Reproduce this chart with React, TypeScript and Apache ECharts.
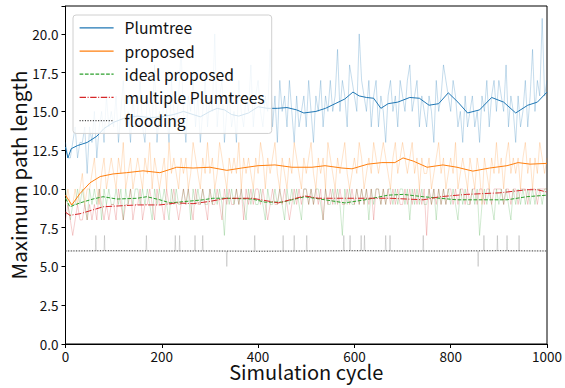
import React, { useEffect, useRef } from "react";
import * as echarts from "echarts";

// ---- data ----
const seriesNames = ["Plumtree", "proposed", "ideal proposed", "multiple Plumtrees", "flooding"];
const xTicks = [0, 200, 400, 600, 800, 1000];
const yTickStep = 2.5;
const rawStep = 5; // raw samples every 5 cycles, 0..1000

const plumRaw = [
  13,12,12,13,14,12,13,13,14,11, 14,13,15,12,14,15,13,16,14,15,
  14,16,13,15,17,14,15,13,16,14, 15,17,14,13,16,15,14,18,13,15,
  14,16,15,13,17,15,14,16,19,15, 13,16,15,17,14,16,13,15,17,14,
  16,15,20,14,16,17,13,15,16,14, 15,13,17,15,14,16,15,18,14,16,
  17,15,14,16,15,19,14,16,13,17, 15,16,14,17,15,13,16,14,15,16,
  14,17,15,13,16,15,17,14,16,15, 17,15,16,19,15,17,16,14,18,17,
  16,15,20,17,16,15,17,14,16,17, 14,16,15,13,16,17,15,16,14,17,
  16,15,17,18,15,16,17,14,16,15, 14,16,15,13,17,15,16,18,17,16,
  15,17,16,14,15,13,16,14,15,16, 14,15,13,16,15,17,14,16,17,15,
  17,16,15,18,14,16,15,13,16,14, 15,17,14,16,19,15,17,16,21,16,
  17,
];
const propRaw = [
  9,10,9,9,10,9,10,11,9,10, 10,11,12,10,9,11,12,10,11,12,
  11,10,12,11,13,10,11,12,10,11, 12,11,10,12,11,13,10,12,11,10,
  11,12,10,13,11,12,11,10,12,11, 12,10,11,13,12,11,10,12,11,13,
  11,12,10,11,13,12,11,10,12,11, 12,11,13,10,12,11,12,11,10,12,
  11,13,12,10,12,11,12,13,11,10, 12,11,10,12,11,13,12,11,10,12,
  11,12,13,11,10,12,11,12,10,13, 12,11,10,12,11,12,13,11,10,11,
  12,11,13,12,10,11,12,11,13,12, 11,12,13,12,11,10,12,13,11,12,
  13,12,11,12,13,11,12,10,12,11, 11,12,10,11,12,13,11,12,10,11,
  12,11,13,10,11,12,11,10,12,11, 10,12,11,9,12,11,10,12,11,13,
  11,12,10,12,13,11,12,11,12,10, 12,13,11,12,10,12,11,13,12,11,
  12,
];
const idealRaw = [
  10,9,8,9,9,10,9,10,9,8, 10,9,10,9,10,8,10,9,10,9,
  9,10,9,10,8,10,9,10,9,10, 10,9,10,9,10,9,8,10,9,10,
  9,10,9,8,10,9,10,9,9,10, 9,10,8,10,9,10,9,10,9,9,
  10,9,10,9,10,9,7,10,9,10, 9,10,9,10,9,8,10,9,10,9,
  9,10,9,8,10,9,9,10,9,10, 9,8,10,9,10,9,10,9,8,10,
  10,9,10,9,10,10,9,8,10,9, 9,10,9,10,9,7,10,9,10,9,
  9,10,9,10,9,10,8,10,9,10, 10,9,10,9,10,10,9,10,9,10,
  10,9,10,8,10,9,10,9,10,9, 9,10,9,10,8,10,9,10,9,10,
  9,10,9,8,10,9,10,9,9,10, 9,10,7,9,10,9,10,9,8,10,
  9,10,9,10,9,8,10,9,10,9, 10,9,10,9,10,9,10,10,9,10,
  10,
];
const multiRaw = [
  8,9,8,7,8,9,8,8,9,8, 9,8,9,8,10,9,8,9,8,9,
  9,8,10,9,8,9,9,10,8,9, 9,10,8,9,9,10,9,8,10,9,
  9,8,10,9,9,10,9,8,9,10, 9,10,9,8,10,9,9,10,9,8,
  10,9,9,10,9,8,10,9,10,9, 9,10,9,10,8,10,9,10,9,10,
  10,9,10,9,8,9,10,9,9,10, 9,10,9,8,9,10,9,10,9,10,
  10,9,10,9,10,9,10,8,10,9, 10,9,10,9,10,9,9,10,9,10,
  9,10,9,10,9,10,9,10,8,10, 10,9,10,9,10,9,10,9,10,9,
  9,10,9,10,9,10,9,10,9,10, 7,10,9,10,9,10,9,10,9,10,
  10,9,10,9,10,10,9,10,9,10, 10,9,10,10,9,10,10,9,10,10,
  10,10,9,10,10,9,10,10,9,10, 10,10,9,10,10,10,9,10,10,10,
  10,
];
const floodBase = 6;
const floodSpikeCycles = [63,81,168,228,237,269,285,335,393,452,475,501,578,591,614,621,665,674,743,857,869,897,917,942];
const floodSpikeValues = [7,7,7,7,7,7,7,5,7,7,7,7,7,7,7,7,7,7,7,5,7,7,7,7];

const plumSmoothX = [0,5,12,25,45,65,80,100,125,150,175,200,225,245,265,280,300,315,330,345,360,380,400,420,440,460,480,495,520,540,560,580,597,610,625,640,655,670,690,715,735,755,775,795,815,835,860,885,910,935,960,980,1000];
const plumSmoothY = [12.7,12.0,12.6,12.8,13.0,13.4,13.9,14.3,14.6,14.7,14.6,14.65,14.8,15.0,14.8,14.65,15.0,15.2,15.1,14.8,14.7,14.9,15.3,15.2,15.2,15.25,15.1,14.9,15.0,15.2,15.5,15.8,16.25,16.0,15.9,15.85,15.2,15.5,15.6,15.9,15.85,15.4,15.5,16.2,15.6,14.9,15.1,15.9,15.6,14.9,15.4,15.6,16.25];
const propSmoothX = [0,13,30,51,72,99,127,161,196,231,265,300,335,366,400,435,470,512,539,574,595,628,657,684,701,722,751,784,813,846,881,917,940,965,1000];
const propSmoothY = [9.6,8.97,9.7,10.4,10.8,10.97,11.05,11.17,11.05,11.4,11.35,11.4,11.2,11.35,11.5,11.55,11.4,11.4,11.5,11.35,11.3,11.6,11.7,11.7,12.0,11.8,11.4,11.55,11.4,11.15,11.35,11.5,11.7,11.6,11.65];
const idealSmoothX = [0,9,30,57,78,107,149,169,196,217,252,286,306,335,388,414,450,497,539,580,622,670,701,743,778,813,867,917,958,1000];
const idealSmoothY = [9.4,8.85,9.1,9.35,9.5,9.35,9.4,9.5,9.3,9.1,9.2,9.3,9.4,9.4,9.35,9.15,9.15,9.5,9.3,9.1,9.3,9.6,9.65,9.5,9.4,9.3,9.3,9.3,9.5,9.6];
const multiSmoothX = [0,9,30,57,78,107,149,196,231,265,300,335,388,442,497,525,574,622,674,743,778,833,902,958,980,1000];
const multiSmoothY = [8.5,8.3,8.4,8.65,8.85,8.9,8.97,8.97,9.1,9.05,9.2,9.4,9.4,9.1,9.55,9.4,9.4,9.4,9.4,9.3,9.5,9.65,9.75,9.95,9.95,9.8];
const floodSmoothX = [0,100,200,300,400,500,600,700,800,900,1000];
const floodSmoothY = [6.0,6.02,6.0,6.0,5.98,6.0,6.02,6.0,6.0,6.02,6.0];

const colors = ["#1f77b4", "#ff7f0e", "#2ca02c", "#d62728", "#333333"];
const FONT = "'Noto Sans CJK JP', 'Noto Sans', sans-serif";

const rawPairs = (vals: number[]) => vals.map((v, i) => [i * rawStep, v]);
const xyPairs = (xs: number[], ys: number[]) => xs.map((x, i) => [x, ys[i]]);
const floodRawPairs = () => {
  const pts: number[][] = [[0, floodBase]];
  floodSpikeCycles.forEach((c, i) => {
    pts.push([c - 1, floodBase], [c, floodSpikeValues[i]], [c + 1, floodBase]);
  });
  pts.push([1000, floodBase]);
  return pts;
};

export default function App() {
  const ref = useRef<HTMLDivElement>(null);
  useEffect(() => {
    if (!ref.current) return;
    const chart = echarts.init(ref.current, undefined, { renderer: "svg" });
    const raw = (name: string, data: number[][], color: string, opacity: number) => ({
      name,
      type: "line",
      data,
      showSymbol: false,
      symbol: "none",
      silent: true,
      lineStyle: { color, width: 1, opacity },
      z: 1,
    });
    const smooth = (name: string, data: number[][], color: string, type: any, width = 1) => ({
      name,
      type: "line",
      data,
      showSymbol: false,
      symbol: "none",
      itemStyle: { color },
      lineStyle: { color, width, type },
      z: 3,
    });
    chart.setOption({
      animation: false,
      textStyle: { fontFamily: FONT },
      grid: {
        left: 65.5,
        right: 18,
        top: 6,
        bottom: 44,
        containLabel: false,
        outerBoundsMode: "none",
        show: true,
        borderColor: "#000",
        borderWidth: 1,
        backgroundColor: "transparent",
      },
      legend: {
        data: seriesNames,
        orient: "vertical",
        left: 73,
        top: 15,
        padding: [5, 7, 5, 6],
        itemWidth: 34,
        itemHeight: 16,
        itemGap: 7.5,
        itemStyle: { opacity: 0 },
        lineStyle: { width: 1.2 },
        backgroundColor: "rgba(255,255,255,0.8)",
        borderColor: "#d0d0d0",
        borderWidth: 1,
        borderRadius: 3,
        textStyle: { fontFamily: FONT, fontSize: 15.7, color: "#111", padding: [0, 0, 0, 6] },
      },
      xAxis: {
        type: "value",
        min: xTicks[0],
        max: xTicks[xTicks.length - 1],
        interval: xTicks[1] - xTicks[0],
        name: "Simulation cycle",
        nameLocation: "middle",
        nameGap: 17,
        nameMoveOverlap: false,
        nameTextStyle: { fontFamily: FONT, fontSize: 20, color: "#111", lineHeight: 20 },
        axisLine: { lineStyle: { color: "#000", width: 1 } },
        axisTick: { show: true, length: 4, lineStyle: { color: "#000" } },
        axisLabel: {
          color: "#111",
          fontSize: 13.5,
          margin: 5,
          fontFamily: FONT,
          lineHeight: 14,
          formatter: (v: number) => String(v),
        },
        splitLine: { show: false },
      },
      yAxis: {
        type: "value",
        min: 0,
        max: 21.8,
        interval: yTickStep,
        name: "Maximum path length",
        nameLocation: "middle",
        nameGap: 37,
        nameMoveOverlap: false,
        nameTextStyle: { fontFamily: FONT, fontSize: 20.5, color: "#111", lineHeight: 21 },
        axisLine: { show: true, lineStyle: { color: "#000", width: 1 } },
        axisTick: { show: true, length: 4, lineStyle: { color: "#000" } },
        axisLabel: {
          color: "#111",
          fontSize: 13.5,
          margin: 7,
          fontFamily: FONT,
          formatter: (v: number) => (Math.abs(v / yTickStep - Math.round(v / yTickStep)) < 1e-6 ? v.toFixed(1) : ""),
        },
        splitLine: { show: false },
      },
      series: [
        raw("Plumtree raw", rawPairs(plumRaw), colors[0], 0.26),
        raw("proposed raw", rawPairs(propRaw), colors[1], 0.22),
        raw("ideal proposed raw", rawPairs(idealRaw), colors[2], 0.22),
        raw("multiple Plumtrees raw", rawPairs(multiRaw), colors[3], 0.22),
        raw("flooding raw", floodRawPairs(), "#888888", 0.3),
        smooth(seriesNames[0], xyPairs(plumSmoothX, plumSmoothY), colors[0], "solid"),
        smooth(seriesNames[1], xyPairs(propSmoothX, propSmoothY), colors[1], "solid"),
        smooth(seriesNames[2], xyPairs(idealSmoothX, idealSmoothY), colors[2], [3.7, 1.6]),
        smooth(seriesNames[3], xyPairs(multiSmoothX, multiSmoothY), colors[3], [6.4, 1.6, 1, 1.6]),
        smooth(seriesNames[4], xyPairs(floodSmoothX, floodSmoothY), colors[4], [1, 1.65]),
      ],
    });
    return () => chart.dispose();
  }, []);
  return (
    <div
      ref={ref}
      style={{ position: "fixed", left: 0, top: 0, width: 565, height: 388, background: "#fff" }}
    />
  );
}
